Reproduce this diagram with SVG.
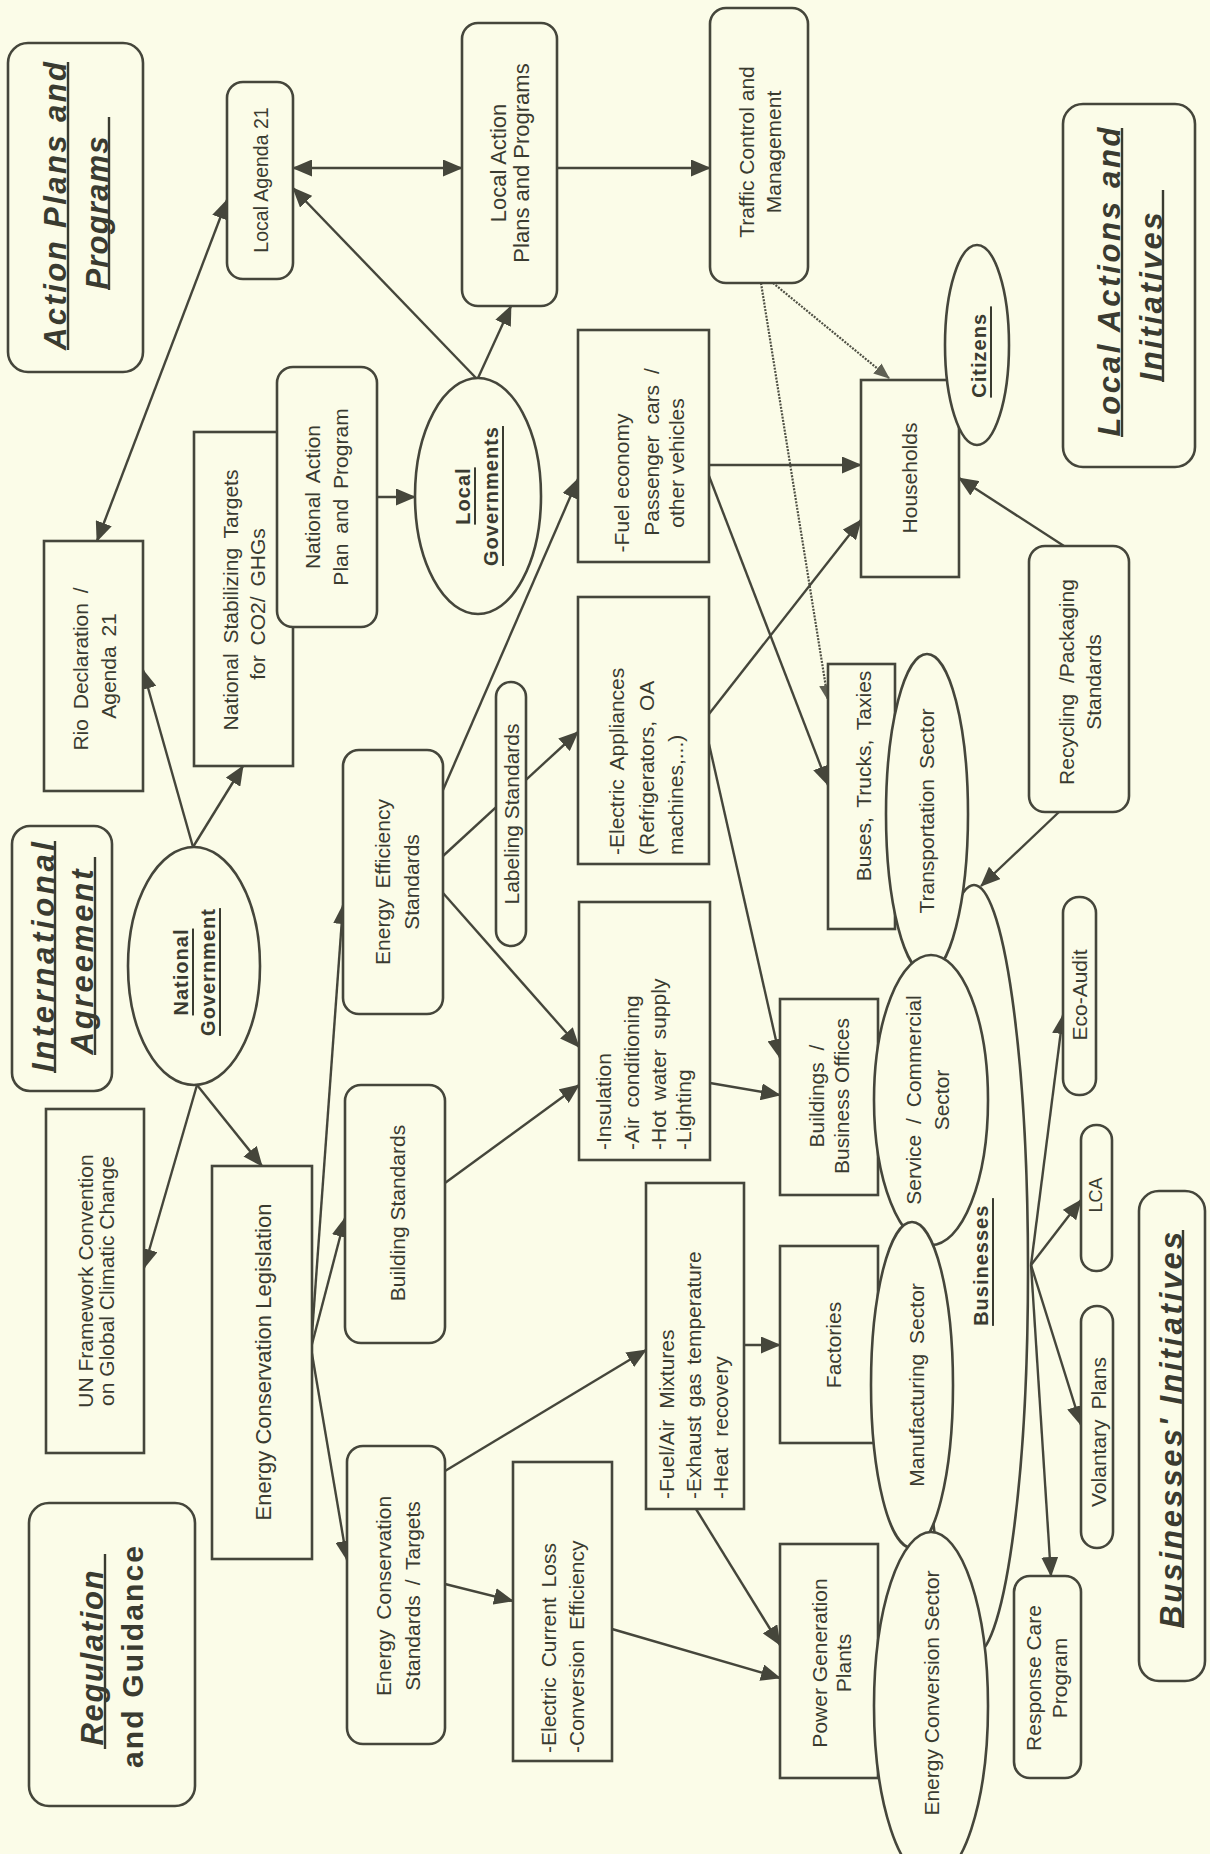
<svg xmlns="http://www.w3.org/2000/svg" width="1210" height="1854" viewBox="0 0 1210 1854">
<defs>
<style>
.bg{fill:#fbfce8}
.box{fill:#fbfce8;stroke:#45463b;stroke-width:2.6}
.edge{fill:none;stroke:#45463b;stroke-width:2.4}
.dash{fill:none;stroke:#4f5044;stroke-width:2.2;stroke-dasharray:2 1.3}
.ul{stroke:#3a3b30;stroke-width:2.4}
.t{font-family:"Liberation Sans",Arial,Helvetica,sans-serif;font-size:21px;fill:#3a3b30;text-anchor:middle;dominant-baseline:central}
.ts{text-anchor:start}
.ws{word-spacing:4px}
.b{font-weight:bold;font-size:20px;text-decoration:underline;letter-spacing:1px}
.title{font-weight:bold;font-style:italic;font-size:31px}
.sub{font-weight:bold;font-size:30px}
</style>
<marker id="ah" markerUnits="userSpaceOnUse" markerWidth="20" markerHeight="17" viewBox="0 0 20 17" refX="19" refY="8.5" orient="auto-start-reverse">
<path d="M0,0 L20,8.5 L0,17 z" fill="#45463b"/>
</marker>
<marker id="ahd" markerUnits="userSpaceOnUse" markerWidth="16" markerHeight="13" viewBox="0 0 16 13" refX="15" refY="6.5" orient="auto">
<path d="M0,0 L16,6.5 L0,13 z" fill="#5f6053"/>
</marker>
</defs>

<rect class="bg" x="0" y="0" width="1210" height="1854"/>

<!-- connectors -->
<g id="connectors" class="edge">
<line x1="97" y1="541" x2="227" y2="200" marker-start="url(#ah)" marker-end="url(#ah)"/>
<line x1="293" y1="168" x2="462" y2="168" marker-start="url(#ah)" marker-end="url(#ah)"/>
<line x1="557" y1="168" x2="710" y2="168" marker-end="url(#ah)"/>
<line x1="476" y1="378" x2="293" y2="188" marker-end="url(#ah)"/>
<line x1="478" y1="378" x2="511" y2="306" marker-end="url(#ah)"/>
<line x1="377" y1="497" x2="415" y2="497" marker-end="url(#ah)"/>
<line x1="193" y1="847" x2="143" y2="670" marker-end="url(#ah)"/>
<line x1="193" y1="847" x2="243" y2="766" marker-end="url(#ah)"/>
<line x1="197" y1="1085" x2="144" y2="1268" marker-end="url(#ah)"/>
<line x1="197" y1="1085" x2="262" y2="1166" marker-end="url(#ah)"/>
<line x1="311" y1="1348" x2="343" y2="905" marker-end="url(#ah)"/>
<line x1="311" y1="1348" x2="345" y2="1218" marker-end="url(#ah)"/>
<line x1="311" y1="1348" x2="347" y2="1560" marker-end="url(#ah)"/>
<line x1="443" y1="790" x2="578" y2="479" marker-end="url(#ah)"/>
<line x1="443" y1="856" x2="578" y2="732" marker-end="url(#ah)"/>
<line x1="443" y1="893" x2="579" y2="1047" marker-end="url(#ah)"/>
<line x1="445" y1="1183" x2="579" y2="1085" marker-end="url(#ah)"/>
<line x1="710" y1="1083" x2="780" y2="1095" marker-end="url(#ah)"/>
<line x1="445" y1="1471" x2="646" y2="1350" marker-end="url(#ah)"/>
<line x1="445" y1="1584" x2="513" y2="1601" marker-end="url(#ah)"/>
<line x1="612" y1="1629" x2="780" y2="1678" marker-end="url(#ah)"/>
<line x1="744" y1="1345" x2="780" y2="1345" marker-end="url(#ah)"/>
<line x1="696" y1="1509" x2="780" y2="1645" marker-end="url(#ah)"/>
<line x1="709" y1="465" x2="861" y2="465" marker-end="url(#ah)"/>
<line x1="709" y1="476" x2="828" y2="785" marker-end="url(#ah)"/>
<line x1="709" y1="714" x2="861" y2="520" marker-end="url(#ah)"/>
<line x1="709" y1="744" x2="780" y2="1058" marker-end="url(#ah)"/>
<line x1="1064" y1="546" x2="959" y2="478" marker-end="url(#ah)"/>
<line x1="1059" y1="812" x2="981" y2="886" marker-end="url(#ah)"/>
<line x1="1031" y1="1265" x2="1063" y2="1015" marker-end="url(#ah)"/>
<line x1="1031" y1="1265" x2="1081" y2="1200" marker-end="url(#ah)"/>
<line x1="1031" y1="1265" x2="1081" y2="1425" marker-end="url(#ah)"/>
<line x1="1031" y1="1265" x2="1051" y2="1576" marker-end="url(#ah)"/>
<line class="dash" x1="773" y1="283" x2="889" y2="378" marker-end="url(#ahd)"/>
<line class="dash" x1="761" y1="283" x2="828" y2="700" marker-end="url(#ahd)"/>
</g>

<!-- section titles (underlines drawn as rules beside the rotated lines) -->
<g id="title-action-plans">
<rect class="box" x="8" y="43" width="135" height="329" rx="20"/>
<text class="t title" transform="rotate(-90)" x="-206" y="55" textLength="288" lengthAdjust="spacing">Action Plans and</text>
<text class="t title" transform="rotate(-90)" x="-213" y="97" textLength="153" lengthAdjust="spacing">Programs</text>
<line class="ul" x1="68" y1="350" x2="68" y2="62"/>
<line class="ul" x1="109" y1="290" x2="109" y2="117"/>
</g>
<g id="title-local-actions">
<rect class="box" x="1063" y="104" width="132" height="363" rx="20"/>
<text class="t title" transform="rotate(-90)" x="-282" y="1109" textLength="309" lengthAdjust="spacing">Local Actions and</text>
<text class="t title" transform="rotate(-90)" x="-297" y="1151" textLength="169" lengthAdjust="spacing">Initiatives</text>
<line class="ul" x1="1122" y1="437" x2="1122" y2="128"/>
<line class="ul" x1="1163" y1="382" x2="1163" y2="190"/>
</g>
<g id="title-international">
<rect class="box" x="12" y="826" width="100" height="265" rx="18"/>
<text class="t title" transform="rotate(-90)" x="-957" y="43" textLength="230" lengthAdjust="spacing">International</text>
<text class="t title" transform="rotate(-90)" x="-962" y="82" textLength="185" lengthAdjust="spacing">Agreement</text>
<line class="ul" x1="55" y1="1073" x2="55" y2="841"/>
<line class="ul" x1="95" y1="1055" x2="95" y2="857"/>
</g>
<g id="title-regulation">
<rect class="box" x="29" y="1503" width="166" height="303" rx="20"/>
<text class="t title" transform="rotate(-90)" x="-1658" y="92" textLength="175" lengthAdjust="spacing">Regulation</text>
<text class="t sub" transform="rotate(-90)" x="-1657" y="132" textLength="222" lengthAdjust="spacing">and Guidance</text>
<line class="ul" x1="105" y1="1749" x2="105" y2="1554"/>
</g>
<g id="title-businesses-initiatives">
<rect class="box" x="1139" y="1191" width="66" height="490" rx="20"/>
<text class="t title" transform="rotate(-90)" x="-1430" y="1171" textLength="396" lengthAdjust="spacing">Businesses' Initiatives</text>
<line class="ul" x1="1183" y1="1628" x2="1183" y2="1230"/>
</g>

<!-- government and agreements -->
<g id="rio-declaration">
<rect class="box" x="44" y="541" width="99" height="250"/>
<text class="t ws" transform="rotate(-90)"><tspan x="-669" y="80">Rio Declaration /</tspan><tspan x="-666" y="108">Agenda 21</tspan></text>
</g>
<g id="un-framework">
<rect class="box" x="46" y="1109" width="98" height="344"/>
<text class="t" transform="rotate(-90)"><tspan x="-1281" y="85">UN Framework Convention</tspan><tspan x="-1281" y="106">on Global Climatic Change</tspan></text>
</g>
<g id="national-government">
<ellipse class="box" cx="194" cy="966" rx="66" ry="119"/>
<text class="t b" transform="rotate(-90)"><tspan x="-972" y="181">National</tspan><tspan x="-972" y="208">Government</tspan></text>
</g>
<g id="national-targets">
<rect class="box" x="194" y="432" width="99" height="334"/>
<text class="t ws" transform="rotate(-90)"><tspan x="-600" y="230">National Stabilizing Targets</tspan><tspan x="-604" y="257">for CO2/ GHGs</tspan></text>
</g>
<g id="national-action-plan">
<rect class="box" x="277" y="367" width="100" height="260" rx="16"/>
<text class="t ws" transform="rotate(-90)"><tspan x="-497" y="312">National Action</tspan><tspan x="-497" y="340">Plan and Program</tspan></text>
</g>
<g id="local-agenda-21">
<rect class="box" x="227" y="82" width="66" height="197" rx="16"/>
<text class="t" style="font-size:19.5px" transform="rotate(-90)" x="-180" y="261">Local Agenda 21</text>
</g>
<g id="local-governments">
<ellipse class="box" cx="478" cy="496" rx="63" ry="118"/>
<text class="t b" transform="rotate(-90)"><tspan x="-496" y="463">Local</tspan><tspan x="-496" y="491">Governments</tspan></text>
</g>
<g id="local-action-plans">
<rect class="box" x="462" y="23" width="95" height="283" rx="16"/>
<text class="t" style="font-size:22px" transform="rotate(-90)"><tspan x="-163" y="498">Local Action</tspan><tspan x="-163" y="521">Plans and Programs</tspan></text>
</g>
<g id="traffic-control">
<rect class="box" x="710" y="8" width="98" height="275" rx="16"/>
<text class="t" transform="rotate(-90)"><tspan x="-152" y="746">Traffic Control and</tspan><tspan x="-152" y="773">Management</tspan></text>
</g>

<!-- legislation and standards -->
<g id="energy-conservation-legislation">
<rect class="box" x="212" y="1166" width="100" height="393"/>
<text class="t" style="font-size:22px" transform="rotate(-90)" x="-1362" y="263">Energy Conservation Legislation</text>
</g>
<g id="energy-efficiency-standards">
<rect class="box" x="343" y="750" width="100" height="264" rx="16"/>
<text class="t ws" transform="rotate(-90)"><tspan x="-882" y="382">Energy Efficiency</tspan><tspan x="-882" y="411">Standards</tspan></text>
</g>
<g id="building-standards">
<rect class="box" x="345" y="1085" width="100" height="258" rx="16"/>
<text class="t" transform="rotate(-90)" x="-1213" y="397">Building Standards</text>
</g>
<g id="energy-conservation-standards">
<rect class="box" x="347" y="1446" width="98" height="298" rx="16"/>
<text class="t ws" transform="rotate(-90)"><tspan x="-1596" y="383">Energy Conservation</tspan><tspan x="-1596" y="412">Standards / Targets</tspan></text>
</g>
<g id="labeling-standards">
<rect class="box" x="496" y="682" width="30" height="264" rx="15"/>
<text class="t" transform="rotate(-90)" x="-814" y="511">Labeling Standards</text>
</g>

<!-- measures -->
<g id="fuel-economy">
<rect class="box" x="578" y="330" width="131" height="232"/>
<text class="t" transform="rotate(-90)"><tspan x="-483" y="621">-Fuel economy</tspan><tspan x="-452" y="651" style="word-spacing:5px">Passenger cars /</tspan><tspan x="-463" y="676">other vehicles</tspan></text>
</g>
<g id="electric-appliances">
<rect class="box" x="578" y="597" width="131" height="267"/>
<text class="t ts ws" transform="rotate(-90)"><tspan x="-855" y="616">-Electric Appliances</tspan><tspan x="-855" y="646">(Refrigerators, OA</tspan><tspan x="-855" y="675">machines,...)</tspan></text>
</g>
<g id="insulation">
<rect class="box" x="579" y="902" width="131" height="258"/>
<text class="t ts ws" transform="rotate(-90)"><tspan x="-1150" y="603">-Insulation</tspan><tspan x="-1150" y="631">-Air conditioning</tspan><tspan x="-1150" y="658">-Hot water supply</tspan><tspan x="-1150" y="683">-Lighting</tspan></text>
</g>
<g id="fuel-air">
<rect class="box" x="646" y="1183" width="98" height="326"/>
<text class="t ts" transform="rotate(-90)"><tspan x="-1499" y="666" style="word-spacing:5px">-Fuel/Air Mixtures</tspan><tspan x="-1499" y="693" style="word-spacing:3px">-Exhaust gas temperature</tspan><tspan x="-1499" y="720" style="word-spacing:5px">-Heat recovery</tspan></text>
</g>
<g id="electric-current">
<rect class="box" x="513" y="1462" width="99" height="299"/>
<text class="t ts ws" transform="rotate(-90)"><tspan x="-1753" y="548">-Electric Current Loss</tspan><tspan x="-1753" y="576">-Conversion Efficiency</tspan></text>
</g>

<!-- targets of action -->
<g id="households">
<rect class="box" x="861" y="380" width="98" height="197"/>
<text class="t" transform="rotate(-90)" x="-478" y="909">Households</text>
</g>
<g id="citizens">
<ellipse class="box" cx="977" cy="345" rx="32" ry="100"/>
<text class="t b" transform="rotate(-90)" x="-352" y="979">Citizens&#160;</text>
</g>
<g id="buses">
<rect class="box" x="828" y="664" width="67" height="265"/>
<text class="t ws" transform="rotate(-90)" x="-776" y="863">Buses, Trucks, Taxies</text>
</g>
<g id="buildings">
<rect class="box" x="780" y="999" width="98" height="196"/>
<text class="t" transform="rotate(-90)"><tspan x="-1096" y="816" style="word-spacing:6px">Buildings /</tspan><tspan x="-1096" y="841">Business Offices</tspan></text>
</g>
<g id="factories">
<rect class="box" x="780" y="1246" width="98" height="197"/>
<text class="t" transform="rotate(-90)" x="-1345" y="833">Factories</text>
</g>
<g id="power-generation">
<rect class="box" x="780" y="1544" width="98" height="234"/>
<text class="t" transform="rotate(-90)"><tspan x="-1663" y="819">Power Generation</tspan><tspan x="-1663" y="843">Plants</tspan></text>
</g>
<g id="recycling-standards">
<rect class="box" x="1029" y="546" width="100" height="266" rx="16"/>
<text class="t" transform="rotate(-90)"><tspan x="-682" y="1066" style="word-spacing:5px">Recycling /Packaging</tspan><tspan x="-682" y="1093">Standards</tspan></text>
</g>

<!-- businesses and sectors -->
<g id="businesses">
<ellipse class="box" cx="974" cy="1270" rx="54" ry="385"/>
</g>
<g id="transportation-sector">
<ellipse class="box" cx="927" cy="814" rx="41" ry="160"/>
<text class="t ws" transform="rotate(-90)" x="-811" y="926">Transportation Sector</text>
</g>
<g id="service-sector">
<ellipse class="box" cx="931" cy="1100" rx="57" ry="145"/>
<text class="t" transform="rotate(-90)"><tspan x="-1100" y="913" style="word-spacing:5px">Service / Commercial</tspan><tspan x="-1100" y="941">Sector</tspan></text>
</g>
<g id="manufacturing-sector">
<ellipse class="box" cx="912" cy="1385" rx="41" ry="163"/>
<text class="t ws" transform="rotate(-90)" x="-1385" y="916">Manufacturing Sector</text>
</g>
<g id="energy-conversion-sector">
<ellipse class="box" cx="931" cy="1706" rx="57" ry="174"/>
<text class="t" transform="rotate(-90)" x="-1693" y="931">Energy Conversion Sector</text>
</g>
<g id="businesses-label">
<text class="t b" transform="rotate(-90)" x="-1262" y="981">Businesses&#160;</text>
</g>

<!-- business initiatives -->
<g id="eco-audit">
<rect class="box" x="1063" y="897" width="33" height="198" rx="16"/>
<text class="t" transform="rotate(-90)" x="-995" y="1079">Eco-Audit</text>
</g>
<g id="lca">
<rect class="box" x="1081" y="1125" width="31" height="146" rx="15"/>
<text class="t" style="font-size:18px" transform="rotate(-90)" x="-1195" y="1096">LCA</text>
</g>
<g id="volantary-plans">
<rect class="box" x="1081" y="1306" width="32" height="242" rx="16"/>
<text class="t ws" transform="rotate(-90)" x="-1432" y="1098">Volantary Plans</text>
</g>
<g id="response-care">
<rect class="box" x="1014" y="1576" width="67" height="202" rx="16"/>
<text class="t" transform="rotate(-90)"><tspan x="-1678" y="1033">Response Care</tspan><tspan x="-1678" y="1059">Program</tspan></text>
</g>
</svg>
